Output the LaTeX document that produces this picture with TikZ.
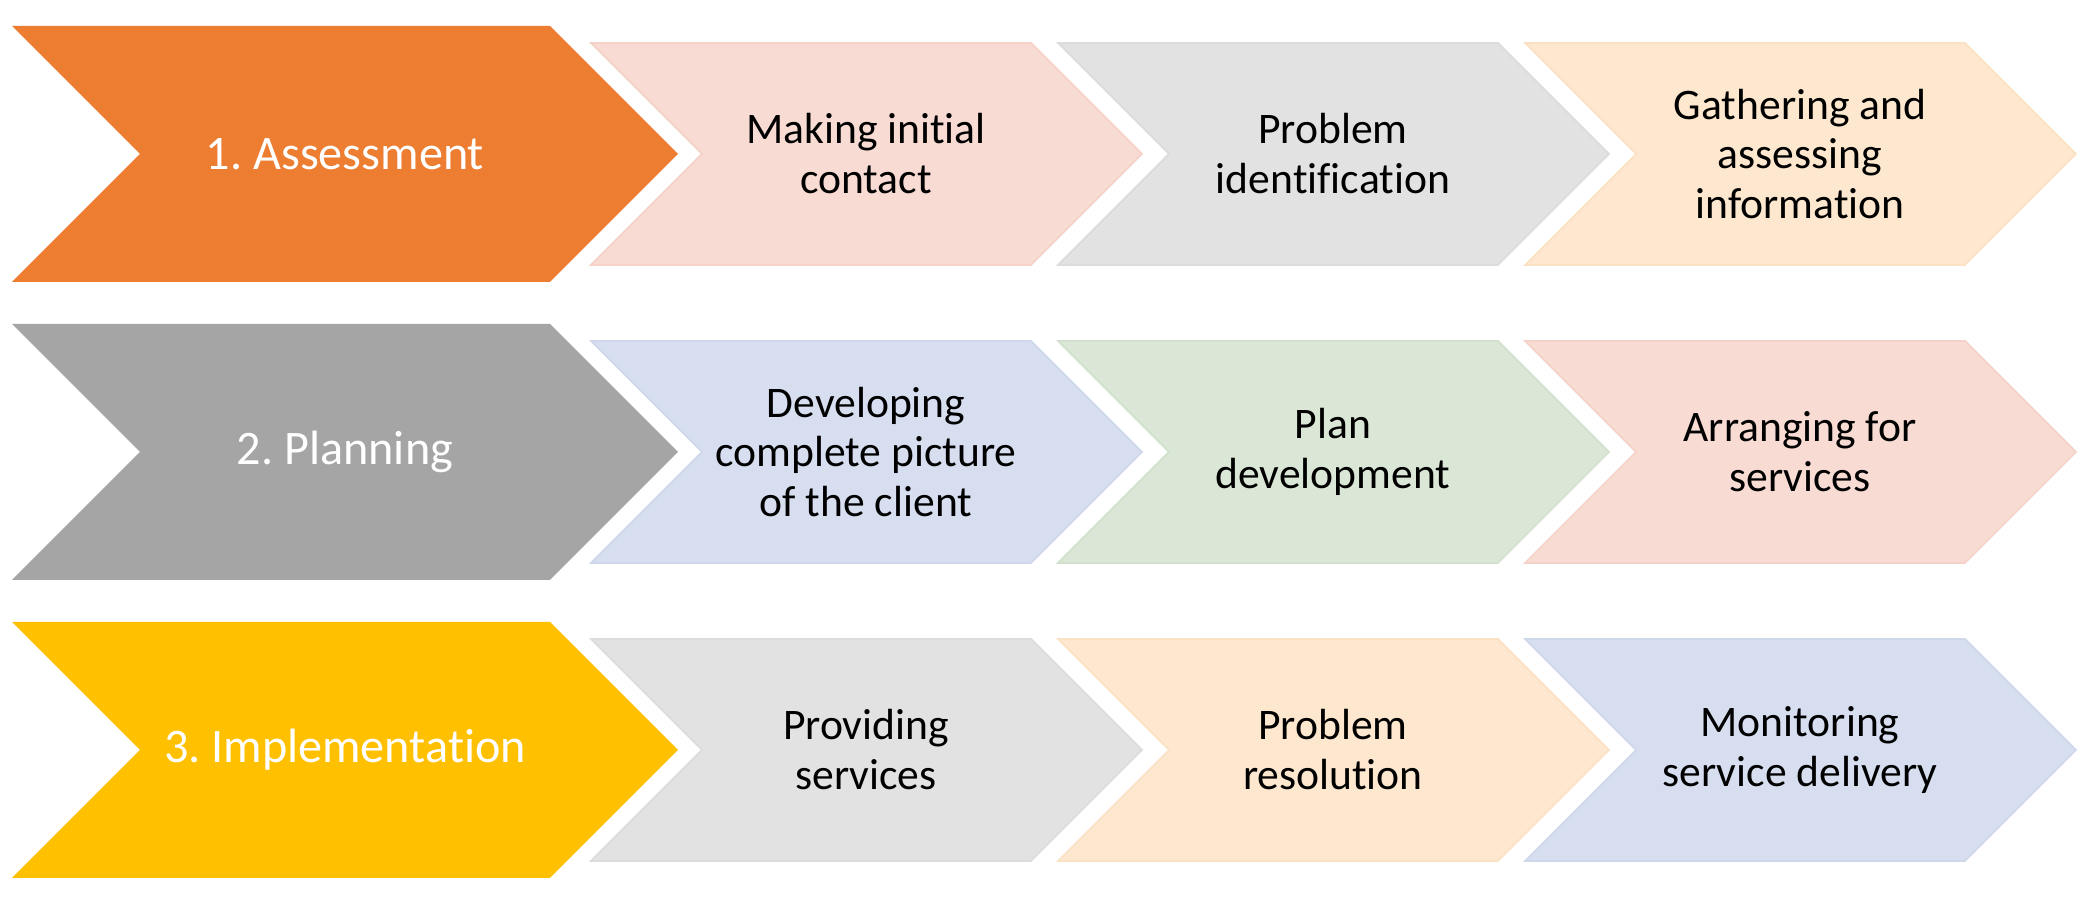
\documentclass[tikz,border=0pt]{standalone}
\usepackage{fontspec}
\setmainfont[Ligatures={NoCommon,NoRequired,NoContextual}]{Carlito}
\frenchspacing
\definecolor{phaseorange}{HTML}{ED7D31}
\definecolor{phasegray}{HTML}{A5A5A5}
\definecolor{phasegold}{HTML}{FFC000}
\definecolor{pinkfill}{HTML}{F8DBD3}
\definecolor{pinkline}{HTML}{F4D2C7}
\definecolor{grayfill}{HTML}{E2E2E2}
\definecolor{grayline}{HTML}{DCDCDC}
\definecolor{peachfill}{HTML}{FDE8CF}
\definecolor{peachline}{HTML}{FBE2C6}
\definecolor{bluefill}{HTML}{D6DEEF}
\definecolor{blueline}{HTML}{CFD8EB}
\definecolor{greenfill}{HTML}{DAE7D6}
\definecolor{greenline}{HTML}{D2E1CD}

% chevron: left x, centre y, width, half height, style
\newcommand{\chevron}[5]{%
  \filldraw[#5] (#1,#2+#4) -- ++({#3-#4},0) -- ++(#4,-#4) -- ++(-#4,-#4)
    -- ++({#4-#3},0) -- ++(#4,#4) -- cycle;}

\tikzset{
  phasetext/.style={text=white, font=\fontsize{13.7}{16}\selectfont},
  steptext/.style={text=black, align=center, font=\fontsize{12.4}{14.2}\selectfont},
  pinkstep/.style={fill=pinkfill, draw=pinkline, line width=0.5pt},
  graystep/.style={fill=grayfill, draw=grayline, line width=0.5pt},
  peachstep/.style={fill=peachfill, draw=peachline, line width=0.5pt},
  bluestep/.style={fill=bluefill, draw=blueline, line width=0.5pt},
  greenstep/.style={fill=greenfill, draw=greenline, line width=0.5pt},
}

\begin{document}
\begin{tikzpicture}[x=0.01cm, y=0.01cm]
  \useasboundingbox (0,0) rectangle (2078,904);

  % big phase chevrons
  \chevron{12}{750}{666}{128}{fill=phaseorange, draw=none}
  \chevron{12}{452}{666}{128}{fill=phasegray, draw=none}
  \chevron{12}{154}{666}{128}{fill=phasegold, draw=none}

  % step chevrons
  \chevron{591}{750}{551}{111}{pinkstep}
  \chevron{1058}{750}{551}{111}{graystep}
  \chevron{1525}{750}{551}{111}{peachstep}

  \chevron{591}{452}{551}{111}{bluestep}
  \chevron{1058}{452}{551}{111}{greenstep}
  \chevron{1525}{452}{551}{111}{pinkstep}

  \chevron{591}{154}{551}{111}{graystep}
  \chevron{1058}{154}{551}{111}{peachstep}
  \chevron{1525}{154}{551}{111}{bluestep}

  % labels
  \node[phasetext] (assess) at (345,750) {1. Assessment};
  \node[phasetext] (plan) at (345,452) {2. Planning};
  \node[phasetext] (impl) at (345,154) {3. Implementation};

  \node[steptext] (contact) at (866,750) {Making initial\\contact};
  \node[steptext] (problem) at (1333,750) {Problem\\identification};
  \node[steptext] (gather) at (1800,750) {Gathering and\\assessing\\information};

  \node[steptext] (picture) at (866,452) {Developing\\complete picture\\of the client};
  \node[steptext] (plandev) at (1333,452) {Plan\\development};
  \node[steptext] (arrange) at (1800,452) {Arranging for\\services};

  \node[steptext] (provide) at (866,154) {Providing\\services};
  \node[steptext] (resolve) at (1333,154) {Problem\\resolution};
  \node[steptext] (monitor) at (1800,154) {Monitoring\\service delivery};
\end{tikzpicture}
\end{document}
